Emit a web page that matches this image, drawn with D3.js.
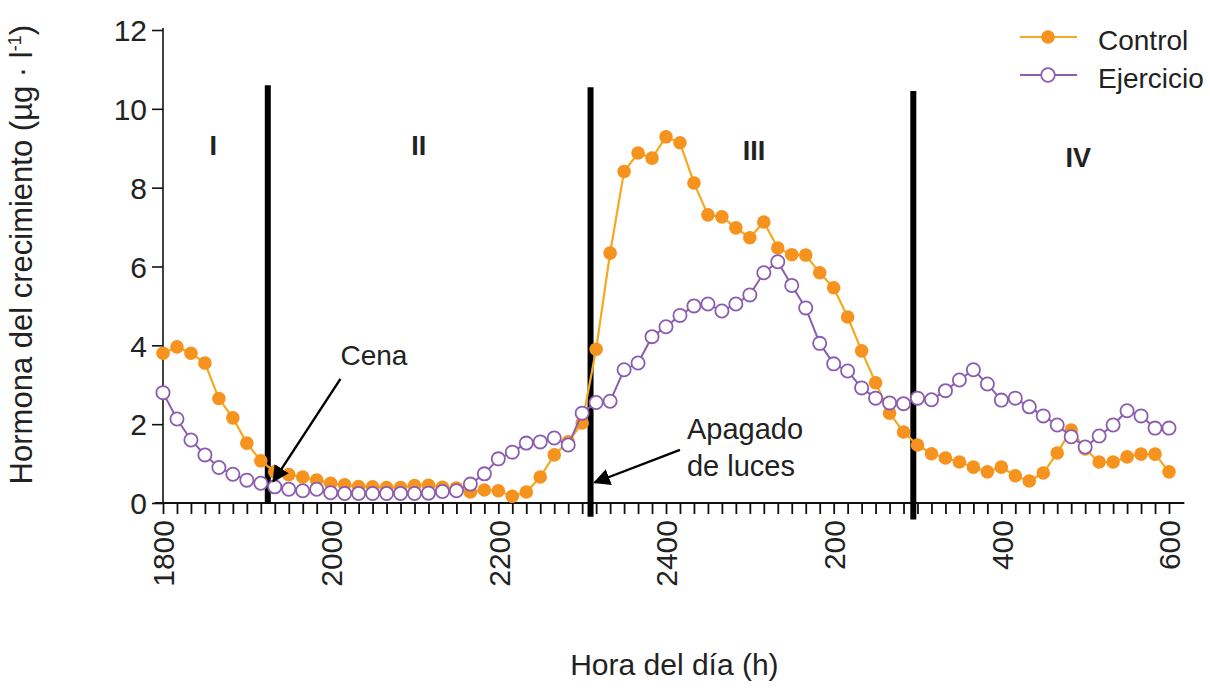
<!DOCTYPE html>
<html><head><meta charset="utf-8">
<script src="https://cdn.jsdelivr.net/npm/d3@7/dist/d3.min.js"></script>
<style>
html,body{margin:0;padding:0;background:#fff;}
svg text{font-family:"Liberation Sans",Arial,Helvetica,sans-serif;fill:#222;}
</style></head>
<body><svg id="chart" width="1210" height="696"></svg>
<script>
// minutes after 18:00, one sample every 10 min (18:00 -> 06:00)
const minutes = d3.range(0, 730, 10);
const control = [3.8,3.96,3.8,3.55,2.65,2.16,1.52,1.07,0.79,0.72,0.66,0.58,0.5,0.46,0.42,0.41,0.39,0.39,0.44,0.45,
  0.4,0.38,0.28,0.33,0.31,0.17,0.28,0.66,1.22,1.55,2.03,3.9,6.34,8.41,8.88,8.75,9.29,9.14,8.12,7.31,
  7.26,6.98,6.73,7.13,6.47,6.3,6.29,5.84,5.46,4.72,3.86,3.05,2.28,1.8,1.47,1.25,1.14,1.04,0.91,0.79,
  0.91,0.69,0.56,0.76,1.27,1.85,1.37,1.04,1.04,1.17,1.24,1.24,0.79];
const ejercicio = [2.8,2.13,1.6,1.22,0.9,0.73,0.58,0.5,0.41,0.35,0.31,0.35,0.26,0.24,0.24,0.24,0.24,0.24,0.24,0.25,
  0.29,0.31,0.48,0.74,1.12,1.29,1.52,1.55,1.65,1.47,2.28,2.55,2.58,3.38,3.55,4.22,4.47,4.76,5.0,5.05,
  4.87,5.05,5.28,5.84,6.12,5.52,4.95,4.05,3.53,3.35,2.92,2.66,2.54,2.52,2.66,2.62,2.85,3.12,3.38,3.02,
  2.61,2.66,2.44,2.21,1.98,1.68,1.42,1.7,1.98,2.34,2.21,1.9,1.9];
const seriesNames = ["Control", "Ejercicio"];
const xTickMinutes = [0,120,240,360,480,600,720];
const xTickLabels = ["1800","2000","2200","2400","200","400","600"];
const yTicks = [0,2,4,6,8,10,12];
const phaseNames = ["I","II","III","IV"];
const phaseBreaks = [75, 306, 537];           // Cena, Apagado de luces, ~2:57
const annotationTexts = ["Cena", "Apagado", "de luces"];

const svg = d3.select("#chart");
const x = d3.scaleLinear().domain([0, 720]).range([163, 1169]);
const y = d3.scaleLinear().domain([0, 12]).range([503, 30]);
const FS = 29;

// Y axis
const yAx = svg.append("g").attr("transform", `translate(${x(0)},0)`)
  .call(d3.axisLeft(y).tickValues(yTicks).tickSize(11).tickSizeOuter(0).tickPadding(5));
yAx.select(".domain").attr("stroke", "#111").attr("stroke-width", 1.6).attr("d", `M0,${y(12.05)}V${y(0)}`);
yAx.selectAll(".tick line").attr("stroke", "#111").attr("stroke-width", 1.6);
yAx.selectAll(".tick text").attr("font-size", 30).attr("fill", "#222").style("font-family", "Liberation Sans, Arial, sans-serif").attr("dy", "0.36em");

// X axis minor ticks
const xAx = svg.append("g").attr("transform", `translate(0,${y(0)})`)
  .call(d3.axisBottom(x).tickValues(minutes).tickSize(11).tickSizeOuter(0).tickFormat(""));
xAx.select(".domain").attr("stroke", "#111").attr("stroke-width", 1.8).attr("d", `M${x(-6)},0H${x(731)}`);
xAx.selectAll(".tick line").attr("stroke", "#111").attr("stroke-width", 1.8);

// X labels (rotated)
const xLab = svg.append("g").attr("transform", `translate(0,${y(0)})`)
  .call(d3.axisBottom(x).tickValues(xTickMinutes).tickSize(0).tickFormat((d, i) => xTickLabels[i]));
xLab.select(".domain").remove();
xLab.selectAll(".tick text")
  .attr("font-size", 30).attr("fill", "#222").style("font-family", "Liberation Sans, Arial, sans-serif")
  .attr("transform", "rotate(-90)")
  .attr("text-anchor", "end")
  .attr("x", -17).attr("y", 0).attr("dy", "0.36em");

// Phase boundary lines
const lineTops = [10.6, 10.55, 10.45];
const lineBottoms = [-0.02, -0.35, -0.42];
svg.append("g").selectAll("line").data(phaseBreaks).join("line")
  .attr("x1", d => x(d)).attr("x2", d => x(d))
  .attr("y1", (d, i) => y(lineTops[i])).attr("y2", (d, i) => y(lineBottoms[i]))
  .attr("stroke", "#000").attr("stroke-width", 6);

// Phase labels
const phaseX = [36, 183, 423, 655];
const phaseY = [8.83, 8.83, 8.7, 8.53];
svg.append("g").selectAll("text").data(phaseNames).join("text")
  .attr("x", (d, i) => x(phaseX[i])).attr("y", (d, i) => y(phaseY[i]))
  .attr("text-anchor", "middle").attr("font-size", 27).attr("font-weight", "bold").attr("fill", "#111")
  .text(d => d);

// Series
const cOrange = "#F6931E", cOrangeLine = "#F4A91F", cPurple = "#8A5DB0";
const lineGen = d3.line().x((d, i) => x(minutes[i])).y(d => y(d));
svg.append("path").datum(control).attr("d", lineGen).attr("fill", "none").attr("stroke", cOrangeLine).attr("stroke-width", 2.2);
svg.append("g").selectAll("circle").data(control).join("circle")
  .attr("cx", (d, i) => x(minutes[i])).attr("cy", d => y(d)).attr("r", 6.8).attr("fill", cOrange);
svg.append("path").datum(ejercicio).attr("d", lineGen).attr("fill", "none").attr("stroke", cPurple).attr("stroke-width", 2);
svg.append("g").selectAll("circle").data(ejercicio).join("circle")
  .attr("cx", (d, i) => x(minutes[i])).attr("cy", d => y(d)).attr("r", 6.6)
  .attr("fill", "#fff").attr("stroke", cPurple).attr("stroke-width", 1.8);

// Arrow marker
svg.append("defs").append("marker").attr("id", "arr").attr("viewBox", "0 0 10 10")
  .attr("refX", 9).attr("refY", 5).attr("markerWidth", 7).attr("markerHeight", 7)
  .attr("markerUnits", "strokeWidth").attr("orient", "auto")
  .append("path").attr("d", "M0,0L10,5L0,10Z").attr("fill", "#000");

// Annotations
svg.append("text").attr("x", x(127)).attr("y", y(3.5)).attr("font-size", 28).text(annotationTexts[0]);
svg.append("line").attr("x1", x(127)).attr("y1", y(3.15)).attr("x2", x(79)).attr("y2", y(0.55))
  .attr("stroke", "#000").attr("stroke-width", 2.4).attr("marker-end", "url(#arr)");
svg.append("text").attr("x", x(375)).attr("y", y(1.62)).attr("font-size", FS).text(annotationTexts[1]);
svg.append("text").attr("x", x(375)).attr("y", y(0.68)).attr("font-size", FS).text(annotationTexts[2]);
svg.append("line").attr("x1", x(370)).attr("y1", y(1.35)).attr("x2", x(309)).attr("y2", y(0.52))
  .attr("stroke", "#000").attr("stroke-width", 2.4).attr("marker-end", "url(#arr)");

// Axis titles
svg.append("text").attr("transform", `translate(32,${y(6.3)}) rotate(-90)`).attr("text-anchor", "middle")
  .attr("font-size", 31).text("Hormona del crecimiento (µg · l")
  .append("tspan").attr("font-size", 18).attr("dy", -11).text("-1")
  .select(function(){ return this.parentNode; })
  .append("tspan").attr("dy", 11).text(")");
svg.append("text").attr("x", x(366)).attr("y", 675).attr("text-anchor", "middle").attr("font-size", 30)
  .text("Hora del día (h)");

// Legend
const leg = svg.append("g");
[0, 1].forEach(i => {
  const ly = 37 + i * 38;
  leg.append("line").attr("x1", 1020).attr("x2", 1077).attr("y1", ly).attr("y2", ly)
    .attr("stroke", i === 0 ? cOrangeLine : cPurple).attr("stroke-width", 2.2);
  leg.append("circle").attr("cx", 1048).attr("cy", ly).attr("r", 6.8)
    .attr("fill", i === 0 ? cOrange : "#fff").attr("stroke", i === 0 ? "none" : cPurple).attr("stroke-width", 1.8);
  leg.append("text").attr("x", 1098).attr("y", ly + 13).attr("font-size", 28).text(seriesNames[i]);
});
</script></body></html>
